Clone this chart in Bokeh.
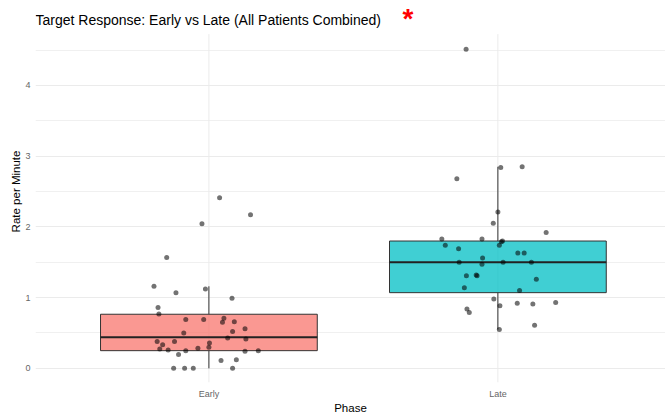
from bokeh.plotting import figure
from bokeh.models import Range1d, FixedTicker, Label
from bokeh.embed import file_html
from bokeh.resources import INLINE

categories = ["Early", "Late"]
fill_colors = ["#F8766D", "#00BFC4"]

# box statistics
q1 = [0.25, 1.07]
median = [0.44, 1.50]
q3 = [0.765, 1.80]
whisker_low = [0.0, 0.55]
whisker_high = [1.16, 2.85]

# jittered points (value, horizontal jitter offset)
early_rate = [2.41, 2.17, 2.045, 1.566, 1.16, 1.07, 1.12, 0.99, 0.86, 0.77,
              0.69, 0.69, 0.71, 0.65, 0.66, 0.56, 0.50, 0.52, 0.43, 0.415,
              0.38, 0.335, 0.38, 0.275, 0.26, 0.25, 0.285, 0.36, 0.30, 0.24,
              0.25, 0.195, 0.11, 0.12, 0.0, 0.0, 0.0, 0.0]
early_jitter = [0.037, 0.144, -0.024, -0.146, -0.19, -0.114, -0.012, 0.08, -0.176, -0.173,
                -0.08, -0.018, 0.052, 0.047, 0.088, 0.125, -0.087, 0.082, 0.065, 0.128,
                -0.179, -0.16, -0.119, -0.17, -0.141, -0.08, -0.038, 0.002, 0.0, 0.125,
                0.171, -0.105, 0.042, 0.095, -0.122, -0.084, -0.054, 0.082]
late_rate = [4.51, 2.84, 2.85, 2.68, 2.21, 2.05, 1.92, 1.83, 1.83, 1.79,
             1.80, 1.74, 1.74, 1.69, 1.63, 1.63, 1.56, 1.47, 1.50, 1.50,
             1.50, 1.32, 1.31, 1.31, 1.26, 1.14, 1.10, 0.98, 0.885, 0.92,
             0.91, 0.93, 0.84, 0.79, 0.61, 0.55]
late_jitter = [-0.11, 0.01, 0.084, -0.142, 0.0, -0.016, 0.167, -0.194, -0.055, 0.012,
               0.016, -0.182, 0.005, -0.136, 0.069, 0.091, -0.053, -0.055, -0.134, 0.018,
               0.116, -0.075, -0.072, -0.109, 0.133, -0.116, 0.075, -0.014, 0.007, 0.067,
               0.121, 0.2, -0.107, -0.099, 0.127, 0.005]

y_ticks = [0, 1, 2, 3, 4]
y_minor = [0.5, 1.5, 2.5, 3.5, 4.5]

title_text = "Target Response: Early vs Late (All Patients Combined)"
FONT = "Liberation Sans"
positions = [i + 1 for i in range(len(categories))]
box_width = 0.75
panel_top = 4.725      # top of the data panel (below the title area)
panel_bottom = -0.2

p = figure(width=665, height=416, output_backend="svg", toolbar_location=None,
           x_range=Range1d(0.4, 2.58), y_range=Range1d(panel_bottom, 5.2),
           min_border_left=35, min_border_right=0, min_border_top=0, min_border_bottom=0)
p.outline_line_color = None
p.background_fill_color = "white"
p.border_fill_color = "white"

# axes
for ax in (p.xaxis[0], p.yaxis[0]):
    ax.axis_line_color = None
    ax.major_tick_line_color = None
    ax.minor_tick_line_color = None
    ax.major_tick_out = 0
    ax.minor_tick_out = 0
    ax.major_label_text_font = FONT
    ax.major_label_text_font_size = "9px"
    ax.major_label_text_color = "#666666"
    ax.axis_label_text_font = FONT
    ax.axis_label_text_font_size = "11.5px"
    ax.axis_label_text_font_style = "normal"
    ax.axis_label_text_color = "black"

p.xaxis.major_label_standoff = 6
p.xaxis.axis_label_standoff = 0
p.yaxis.major_label_standoff = 5
p.yaxis.axis_label_standoff = 0

p.xaxis.ticker = FixedTicker(ticks=positions)
p.xaxis.major_label_overrides = {pos: c for pos, c in zip(positions, categories)}
p.xaxis.axis_label = "Phase"
p.yaxis.ticker = FixedTicker(ticks=y_ticks, minor_ticks=y_minor)
p.yaxis.axis_label = "Rate per Minute"

p.xgrid.grid_line_color = None
p.ygrid.ticker = FixedTicker(ticks=y_ticks, minor_ticks=y_minor)
p.ygrid.grid_line_color = "#EBEBEB"
p.ygrid.grid_line_width = 1
p.ygrid.minor_grid_line_color = "#F0F0F0"
p.ygrid.minor_grid_line_width = 1

# vertical grid lines at the categories, limited to the data panel
p.segment(x0=positions, x1=positions, y0=[panel_bottom] * len(positions),
          y1=[panel_top] * len(positions), line_color="#EBEBEB", line_width=1)

# whiskers
p.segment(x0=positions, x1=positions, y0=q3, y1=whisker_high, line_color="#333333", line_width=1)
p.segment(x0=positions, x1=positions, y0=whisker_low, y1=q1, line_color="#333333", line_width=1)
# boxes
p.vbar(x=positions, width=box_width, bottom=q1, top=q3, fill_color=fill_colors,
       fill_alpha=0.75, line_color="#333333", line_width=1)
# medians
p.segment(x0=[x - box_width / 2 for x in positions], x1=[x + box_width / 2 for x in positions],
          y0=median, y1=median, line_color="#222222", line_width=2)

# points
ex = [positions[0] + j for j in early_jitter]
lx = [positions[1] + j for j in late_jitter]
p.scatter(x=ex + lx, y=early_rate + late_rate, size=5, fill_color="black",
          fill_alpha=0.55, line_color=None)

title = Label(x=0.4, y=4.92, text=title_text, text_color="black", text_font=FONT,
              text_font_size="14px", text_align="left", text_baseline="middle")
p.add_layout(title)
star = Label(x=1.689, y=4.948, text="*", text_color="red", text_font=FONT,
             text_font_size="28px", text_font_style="bold",
             text_align="center", text_baseline="alphabetic")
p.add_layout(star)

open("out.html", "w").write(file_html(p, INLINE))
